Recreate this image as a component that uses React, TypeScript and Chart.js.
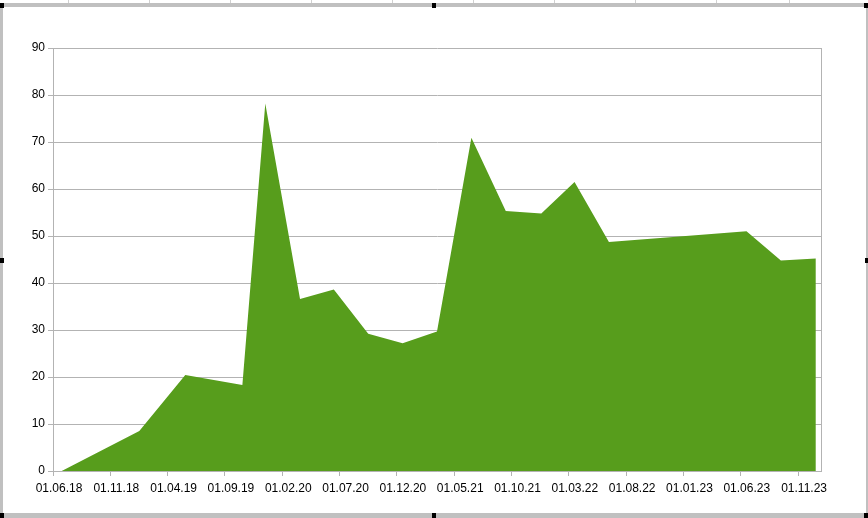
import React, { useEffect, useRef } from "react";
import { Chart, registerables } from "chart.js";

Chart.register(...registerables);

// Months since 01.06.2018 at which each value was recorded
const monthOffsets = [0.76, 7.53, 11.54, 16.52, 18.52, 21.55, 24.5, 27.5, 30.5, 33.5, 36.5, 39.5, 42.6, 45.5, 48.5, 60.5, 63.5, 66.55];
const values = [0, 8.5, 20.4, 18.3, 78.2, 36.6, 38.6, 29.2, 27.2, 29.7, 70.9, 55.3, 54.8, 61.5, 48.7, 51.0, 44.8, 45.2];
const tickLabels = ["01.06.18", "01.11.18", "01.04.19", "01.09.19", "01.02.20", "01.07.20", "01.12.20", "01.05.21", "01.10.21", "01.03.22", "01.08.22", "01.01.23", "01.06.23", "01.11.23"];
const tickStepMonths = 5;
const axisMaxMonths = 67;
const yTicks = [0, 10, 20, 30, 40, 50, 60, 70, 80, 90];

const GRID = "#b3b3b3";
const FONT = { family: "'Liberation Sans', Arial, sans-serif", size: 12 };

export default function App() {
  const ref = useRef<HTMLCanvasElement | null>(null);

  useEffect(() => {
    if (!ref.current) return;
    const rightBorder = {
      id: "rightBorder",
      afterDraw(chart: any) {
        const { ctx, chartArea } = chart;
        ctx.save();
        ctx.strokeStyle = GRID;
        ctx.lineWidth = 1;
        ctx.beginPath();
        ctx.moveTo(Math.round(chartArea.right) + 0.5, chartArea.top);
        ctx.lineTo(Math.round(chartArea.right) + 0.5, chartArea.bottom);
        ctx.stroke();
        ctx.restore();
      },
    };
    const chart = new Chart(ref.current, {
      type: "line",
      data: {
        datasets: [
          {
            data: monthOffsets.map((m, i) => ({ x: m, y: values[i] })),
            backgroundColor: "#579d1c",
            borderWidth: 0,
            borderColor: "#579d1c",
            fill: "origin",
            pointRadius: 0,
            tension: 0,
          },
        ],
      },
      options: {
        animation: false,
        responsive: false,
        devicePixelRatio: 1,
        layout: { padding: { top: 48, right: 47, bottom: 17, left: 0 } },
        plugins: { legend: { display: false }, tooltip: { enabled: false } },
        scales: {
          x: {
            type: "linear",
            min: 0,
            max: axisMaxMonths,
            afterBuildTicks: (s: any) => {
              s.ticks = tickLabels.map((_, i) => ({ value: i * tickStepMonths }));
            },
            afterFit: (s: any) => {
              s.height = 30;
            },
            ticks: {
              autoSkip: false,
              maxRotation: 0,
              minRotation: 0,
              padding: 5,
              labelOffset: 6,
              color: "#000",
              font: FONT,
              callback: (v: any) => tickLabels[Math.round(Number(v) / tickStepMonths)] ?? "",
            },
            grid: { drawOnChartArea: false, drawTicks: true, tickLength: 5, color: GRID },
            border: { color: GRID },
          },
          y: {
            min: 0,
            max: 90,
            afterBuildTicks: (s: any) => {
              s.ticks = yTicks.map((v) => ({ value: v }));
            },
            afterFit: (s: any) => {
              s.width = 53;
            },
            ticks: { padding: 3, color: "#000", font: FONT },
            grid: { color: GRID, tickLength: 5 },
            border: { color: GRID },
          },
        },
      },
      plugins: [rightBorder],
    });
    return () => chart.destroy();
  }, []);

  const gray = "#c0c0c0";
  const handle = (l: number, t: number) => (
    <div style={{ position: "absolute", left: l, top: t, width: 4, height: 5, background: "#000" }} />
  );
  const sheetLines = [68, 149, 230, 311, 392, 473, 554, 635, 716, 789];

  return (
    <div style={{ position: "absolute", left: 0, top: 0, width: 868, height: 518, background: "#fff", overflow: "hidden" }}>
      {sheetLines.map((x) => (
        <div key={x} style={{ position: "absolute", left: x, top: 0, width: 1, height: 3, background: "#d0d0d0" }} />
      ))}
      <canvas ref={ref} width={868} height={518} style={{ position: "absolute", left: 0, top: 0, width: 868, height: 518 }} />
      <div style={{ position: "absolute", left: 0, top: 3, width: 868, height: 4, background: gray }} />
      <div style={{ position: "absolute", left: 0, top: 3, width: 3, height: 515, background: gray }} />
      <div style={{ position: "absolute", left: 866, top: 3, width: 2, height: 515, background: gray }} />
      <div style={{ position: "absolute", left: 0, top: 513, width: 868, height: 5, background: gray }} />
      {handle(0, 3)}
      {handle(432, 3)}
      {handle(864, 3)}
      {handle(0, 258)}
      {handle(865, 258)}
      {handle(0, 513)}
      {handle(432, 513)}
      {handle(864, 513)}
    </div>
  );
}
